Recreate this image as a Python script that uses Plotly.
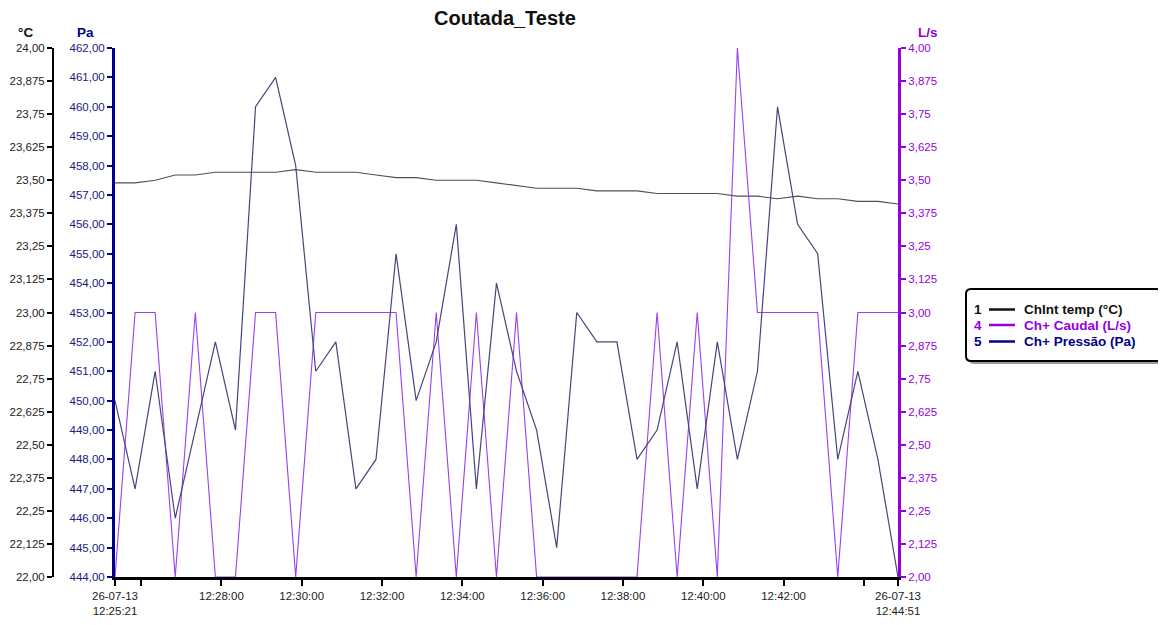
import plotly.graph_objects as go

# ---------------- data ----------------
date = "2013-07-26"
times = ["12:25:21", "12:25:51", "12:26:21", "12:26:51", "12:27:21", "12:27:51", "12:28:21", "12:28:51",
         "12:29:21", "12:29:51", "12:30:21", "12:30:51", "12:31:21", "12:31:51", "12:32:21", "12:32:51",
         "12:33:21", "12:33:51", "12:34:21", "12:34:51", "12:35:21", "12:35:51", "12:36:21", "12:36:51",
         "12:37:21", "12:37:51", "12:38:21", "12:38:51", "12:39:21", "12:39:51", "12:40:21", "12:40:51",
         "12:41:21", "12:41:51", "12:42:21", "12:42:51", "12:43:21", "12:43:51", "12:44:21", "12:44:51"]

temp_c = [23.49, 23.49, 23.50, 23.52, 23.52, 23.53, 23.53, 23.53, 23.53, 23.54,
          23.53, 23.53, 23.53, 23.52, 23.51, 23.51, 23.50, 23.50, 23.50, 23.49,
          23.48, 23.47, 23.47, 23.47, 23.46, 23.46, 23.46, 23.45, 23.45, 23.45,
          23.45, 23.44, 23.44, 23.43, 23.44, 23.43, 23.43, 23.42, 23.42, 23.41]

caudal = [2, 3, 3, 2, 3, 2, 2, 3, 3, 2,
          3, 3, 3, 3, 3, 2, 3, 2, 3, 2,
          3, 2, 2, 2, 2, 2, 2, 3, 2, 3,
          2, 4, 3, 3, 3, 3, 2, 3, 3, 3]

pressao = [450, 447, 451, 446, 449, 452, 449, 460, 461, 458,
           451, 452, 447, 448, 455, 450, 452, 456, 447, 454,
           451, 449, 445, 453, 452, 452, 448, 449, 452, 447,
           452, 448, 451, 460, 456, 455, 448, 451, 448, 444]

temp_ticks = [22.0, 22.125, 22.25, 22.375, 22.5, 22.625, 22.75, 22.875, 23.0,
              23.125, 23.25, 23.375, 23.5, 23.625, 23.75, 23.875, 24.0]
temp_ticktext = ["22,00", "22,125", "22,25", "22,375", "22,50", "22,625", "22,75", "22,875", "23,00",
                 "23,125", "23,25", "23,375", "23,50", "23,625", "23,75", "23,875", "24,00"]
pa_ticks = list(range(444, 463))
pa_ticktext = [f"{v},00" for v in pa_ticks]
ls_ticks = [2.0, 2.125, 2.25, 2.375, 2.5, 2.625, 2.75, 2.875, 3.0,
            3.125, 3.25, 3.375, 3.5, 3.625, 3.75, 3.875, 4.0]
ls_ticktext = ["2,00", "2,125", "2,25", "2,375", "2,50", "2,625", "2,75", "2,875", "3,00",
               "3,125", "3,25", "3,375", "3,50", "3,625", "3,75", "3,875", "4,00"]

x_tick_times = ["12:25:21", "12:26:00", "12:28:00", "12:30:00", "12:32:00", "12:34:00", "12:36:00",
                "12:38:00", "12:40:00", "12:42:00", "12:44:00", "12:44:51"]
x_tick_text = ["26-07-13<br>12:25:21", "", "12:28:00", "12:30:00", "12:32:00", "12:34:00", "12:36:00",
               "12:38:00", "12:40:00", "12:42:00", "", "26-07-13<br>12:44:51"]

legend_nums = ["1", "4", "5"]
legend_names = ["ChInt temp (°C)", "Ch+ Caudal (L/s)", "Ch+ Pressão (Pa)"]

# ---------------- styling ----------------
C_TEMP = "#505050"
C_FLOW = "#9b3ff0"
C_PRES = "#46467e"
C_NAVY = "#00008b"
C_PURP = "#9400e0"
FONT = "Liberation Sans, Arial, sans-serif"
TICK_SIZE = 11.5

OFF = 8  # page body margin offset
W, H = 1166 - 2 * OFF, 625 - 2 * OFF
ML = 53 - OFF
MR = W - (898 - OFF)
MT = 48 - OFF
MB = H - (577 - OFF)
PW, PH = W - ML - MR, H - MT - MB


def px(xp):
    return (xp - OFF - ML) / PW


def py(yp):
    return (H - MB - (yp - OFF)) / PH


xs = [f"{date} {t}" for t in times]

fig = go.Figure()
fig.add_trace(go.Scatter(x=xs, y=temp_c, mode="lines", line=dict(color=C_TEMP, width=1.1),
                         yaxis="y", name=legend_names[0], showlegend=False))
fig.add_trace(go.Scatter(x=xs, y=caudal, mode="lines", line=dict(color=C_FLOW, width=1.1),
                         yaxis="y2", name=legend_names[1], showlegend=False))
fig.add_trace(go.Scatter(x=xs, y=pressao, mode="lines", line=dict(color=C_PRES, width=1.2),
                         yaxis="y3", name=legend_names[2], showlegend=False))

fig.update_layout(
    width=W, height=H,
    margin=dict(l=ML, r=MR, t=MT, b=MB, autoexpand=False),
    paper_bgcolor="white", plot_bgcolor="white",
    showlegend=False,
    xaxis=dict(
        type="date", domain=[px(115), 1],
        range=[xs[0], xs[-1]],
        tickvals=[f"{date} {t}" for t in x_tick_times], ticktext=x_tick_text,
        ticks="outside", ticklen=6, tickwidth=2, tickcolor="black",
        showline=True, linecolor="black", linewidth=3,
        showgrid=False, zeroline=False,
        tickfont=dict(family=FONT, size=TICK_SIZE, color="#222"),
        tickangle=0,
    ),
    yaxis=dict(
        range=[22, 24], anchor="free", position=0,
        tickvals=temp_ticks, ticktext=temp_ticktext,
        ticks="outside", ticklen=5, tickwidth=2, tickcolor="black",
        showline=True, linecolor="black", linewidth=2,
        showgrid=False, zeroline=False,
        tickfont=dict(family=FONT, size=TICK_SIZE, color="#222"),
    ),
    yaxis2=dict(
        range=[2, 4], overlaying="y", anchor="x", side="right",
        tickvals=ls_ticks, ticktext=ls_ticktext,
        ticks="outside", ticklen=5, tickwidth=2, tickcolor=C_PURP,
        showline=True, linecolor=C_PURP, linewidth=3,
        showgrid=False, zeroline=False,
        tickfont=dict(family=FONT, size=TICK_SIZE, color=C_PURP),
    ),
    yaxis3=dict(
        range=[444, 462], overlaying="y", anchor="x", side="left",
        tickvals=pa_ticks, ticktext=pa_ticktext,
        ticks="outside", ticklen=5, tickwidth=2, tickcolor=C_NAVY,
        showline=True, linecolor=C_NAVY, linewidth=3,
        showgrid=False, zeroline=False,
        tickfont=dict(family=FONT, size=TICK_SIZE, color="#1a1a80"),
    ),
)

ann = []
ann.append(dict(text="<b>Coutada_Teste</b>", x=px(505), y=py(18), xref="paper", yref="paper",
                showarrow=False, font=dict(family=FONT, size=20, color="#111"),
                xanchor="center", yanchor="middle"))
ann.append(dict(text="<b>°C</b>", x=px(25), y=py(33), xref="paper", yref="paper", showarrow=False,
                font=dict(family=FONT, size=13.5, color="#111"), xanchor="center", yanchor="middle"))
ann.append(dict(text="<b>Pa</b>", x=px(85), y=py(33), xref="paper", yref="paper", showarrow=False,
                font=dict(family=FONT, size=13.5, color=C_NAVY), xanchor="center", yanchor="middle"))
ann.append(dict(text="<b>L/s</b>", x=px(928), y=py(33), xref="paper", yref="paper", showarrow=False,
                font=dict(family=FONT, size=13.5, color=C_PURP), xanchor="center", yanchor="middle"))

# legend box
x0, x1, y0, y1, r = 966, 1161, 289, 361, 5


def rounded(xa, xb, ya, yb, rr):
    return (f"M {px(xa + rr)},{py(ya)} L {px(xb - rr)},{py(ya)} Q {px(xb)},{py(ya)} {px(xb)},{py(ya + rr)} "
            f"L {px(xb)},{py(yb - rr)} Q {px(xb)},{py(yb)} {px(xb - rr)},{py(yb)} "
            f"L {px(xa + rr)},{py(yb)} Q {px(xa)},{py(yb)} {px(xa)},{py(yb - rr)} "
            f"L {px(xa)},{py(ya + rr)} Q {px(xa)},{py(ya)} {px(xa + rr)},{py(ya)} Z")


shapes = [
    dict(type="path", path=rounded(x0 + 3, x1 + 3, y0 + 3, y1 + 3, r), xref="paper", yref="paper",
         fillcolor="#9a9a9a", line=dict(width=0), layer="above"),
    dict(type="path", path=rounded(x0, x1, y0, y1, r), xref="paper", yref="paper",
         fillcolor="white", line=dict(color="black", width=2), layer="above"),
]
row_y = [309.5, 325, 341.5]
row_col = ["#111111", C_PURP, C_NAVY]
for i in range(3):
    ann.append(dict(text=f"<b>{legend_nums[i]}</b>", x=px(978), y=py(row_y[i]), xref="paper", yref="paper",
                    showarrow=False, font=dict(family=FONT, size=13.5, color=row_col[i]),
                    xanchor="center", yanchor="middle"))
    shapes.append(dict(type="line", x0=px(989), x1=px(1015), y0=py(row_y[i]), y1=py(row_y[i]),
                       xref="paper", yref="paper", line=dict(color=row_col[i], width=2.5), layer="above"))
    ann.append(dict(text=f"<b>{legend_names[i]}</b>", x=px(1022), y=py(row_y[i]), xref="paper", yref="paper",
                    showarrow=False, font=dict(family=FONT, size=13.5, color=row_col[i]),
                    xanchor="left", yanchor="middle"))

fig.update_layout(annotations=ann, shapes=shapes)
fig.write_html("out.html")
